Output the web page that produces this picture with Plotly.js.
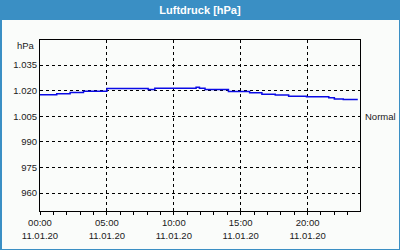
<!DOCTYPE html>
<html>
<head>
<meta charset="utf-8">
<script src="https://cdn.plot.ly/plotly-3.0.1.min.js"></script>
<style>html,body{margin:0;padding:0;background:#3a8fc4;}#chart{width:400px;height:250px;}</style>
</head>
<body>
<div id="chart"></div>
<script>
const times = ["2020-01-11 00:00","2020-01-11 01:15","2020-01-11 02:15","2020-01-11 03:15","2020-01-11 05:00","2020-01-11 08:05","2020-01-11 08:35","2020-01-11 11:40","2020-01-11 11:55","2020-01-11 12:20","2020-01-11 14:05","2020-01-11 15:40","2020-01-11 16:35","2020-01-11 17:35","2020-01-11 18:35","2020-01-11 19:55","2020-01-11 21:35","2020-01-11 22:00","2020-01-11 22:40","2020-01-11 23:45"];
const pressure = [1017.6,1018.2,1018.9,1019.6,1021.3,1020.7,1021.4,1022.0,1021.4,1020.7,1019.5,1018.8,1017.9,1017.5,1016.8,1016.4,1015.8,1015.2,1014.8,1014.8];
const xTickVals = ["2020-01-11 00:00","2020-01-11 05:00","2020-01-11 10:00","2020-01-11 15:00","2020-01-11 20:00"];
const xTickText = ["00:00<br>11.01.20","05:00<br>11.01.20","10:00<br>11.01.20","15:00<br>11.01.20","20:00<br>11.01.20"];
const yTickVals = [960,975,990,1005,1020,1035];
const yTickText = ["960","975","990","1.005","1.020","1.035"];
const normalLevel = 1005;

const font = {family:"Liberation Sans, Arial, sans-serif", size:9.5, color:"#1a1a1a"};
const W = 320, H = 171;
function px(x){return (x-40)/W;}
function py(y){return (211-y)/H;}

const layout = {
  width:400, height:250,
  margin:{l:40,r:40,t:40,b:39},
  paper_bgcolor:"#3a8fc4",
  plot_bgcolor:"rgba(0,0,0,0)",
  showlegend:false,
  font:font,
  title:{text:"Luftdruck [hPa]", font:{family:"Liberation Sans, Arial, sans-serif", size:11, color:"#ffffff", weight:"bold"}, x:0.5, xanchor:"center", y:1-10/250, yanchor:"middle", xref:"container", yref:"container"},
  shapes:[
    {type:"rect", xref:"paper", yref:"paper", x0:px(2), x1:px(399), y0:py(249), y1:py(20), fillcolor:"#fafcfa", line:{width:0}, layer:"below"}
  ],
  xaxis:{
    type:"date",
    range:["2020-01-11 00:00","2020-01-11 23:55"],
    tickvals:xTickVals, ticktext:xTickText,
    ticks:"outside", ticklen:3, tickcolor:"#000",
    minor:{dtick:3600000, tick0:"2020-01-11 00:00", ticks:"outside", ticklen:3, tickcolor:"#000", showgrid:false},
    showgrid:true, gridcolor:"#000", gridwidth:1, griddash:"3px,3px",
    showline:true, linecolor:"#000", linewidth:1, mirror:true,
    zeroline:false, tickfont:font, fixedrange:true
  },
  yaxis:{
    range:[949.5,1049.7],
    tickvals:yTickVals, ticktext:yTickText,
    ticks:"", showgrid:true, gridcolor:"#000", gridwidth:1, griddash:"3px,3px",
    showline:true, linecolor:"#000", linewidth:1, mirror:true,
    zeroline:false, tickfont:font, fixedrange:true
  },
  annotations:[
    {text:"hPa", xref:"paper", x:0, xanchor:"right", xshift:-3, yref:"y", y:1046.5, yanchor:"middle", showarrow:false, font:font},
    {text:"Normal", xref:"paper", x:1, xanchor:"left", xshift:3, yref:"y", y:normalLevel, yanchor:"middle", showarrow:false, font:font}
  ]
};

const data = [{
  x:times, y:pressure, type:"scatter", mode:"lines",
  line:{color:"#0a0ae6", width:1.5, shape:"hv"}, hoverinfo:"skip"
}];

Plotly.newPlot("chart", data, layout, {displayModeBar:false, staticPlot:true});
</script>
</body>
</html>
